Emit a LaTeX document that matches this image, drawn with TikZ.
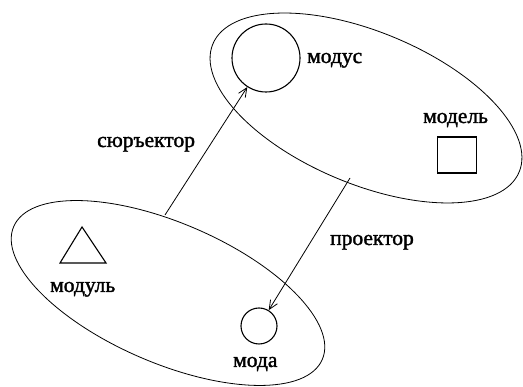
\documentclass[tikz,border=0pt]{standalone}
\usepackage{fontspec}
\setmainfont{Liberation Serif}
\newfontfamily\lblfont[FakeBold=1.6]{Liberation Serif}
\usetikzlibrary{shapes.geometric,arrows.meta}
\begin{document}
\begin{tikzpicture}[x=1pt,y=1pt,
  region/.style={draw,ellipse,line width=0.8pt,inner sep=0pt},
  obj/.style={draw,line width=1.1pt,inner sep=0pt},
  lbl/.style={font=\lblfont\fontsize{21.5}{24}\selectfont,inner sep=0pt,anchor=base west},
  conn/.style={line width=0.8pt,-{Straight Barb[length=9pt,width=8pt]}}]
\useasboundingbox (0,0) rectangle (523,387);
% regions
\node[region,rotate=-22.7,minimum width=332pt,minimum height=152pt] (upper) at (366,279) {};
\node[region,rotate=-23.3,minimum width=336pt,minimum height=140pt] (lower) at (168,94) {};
% objects
\node[obj,circle,minimum size=68pt] (modus) at (266,329) {};
\node[obj,circle,minimum size=36pt] (moda) at (259,61) {};
\node[obj,rectangle,minimum width=39pt,minimum height=36pt] (model) at (457,232) {};
\draw[line width=1.1pt] (60,124) -- (82,160) -- (106,124) -- cycle;
% labels
\node[lbl] (tmodus) at (307,324) {модус};
\node[lbl] (tmodel) at (423,264) {модель};
\node[lbl] (tsur) at (97,240) {сюръектор};
\node[lbl] (tproj) at (330,142) {проектор};
\node[lbl] (tmodul) at (50,95) {модуль};
\node[lbl] (tmoda) at (233,20) {мода};
% connectors
\coordinate (s1) at (165,172);
\coordinate (s2) at (350,209);
\draw[conn] (s1) -- (modus);
\draw[conn] (s2) -- (moda);
\end{tikzpicture}
\end{document}
